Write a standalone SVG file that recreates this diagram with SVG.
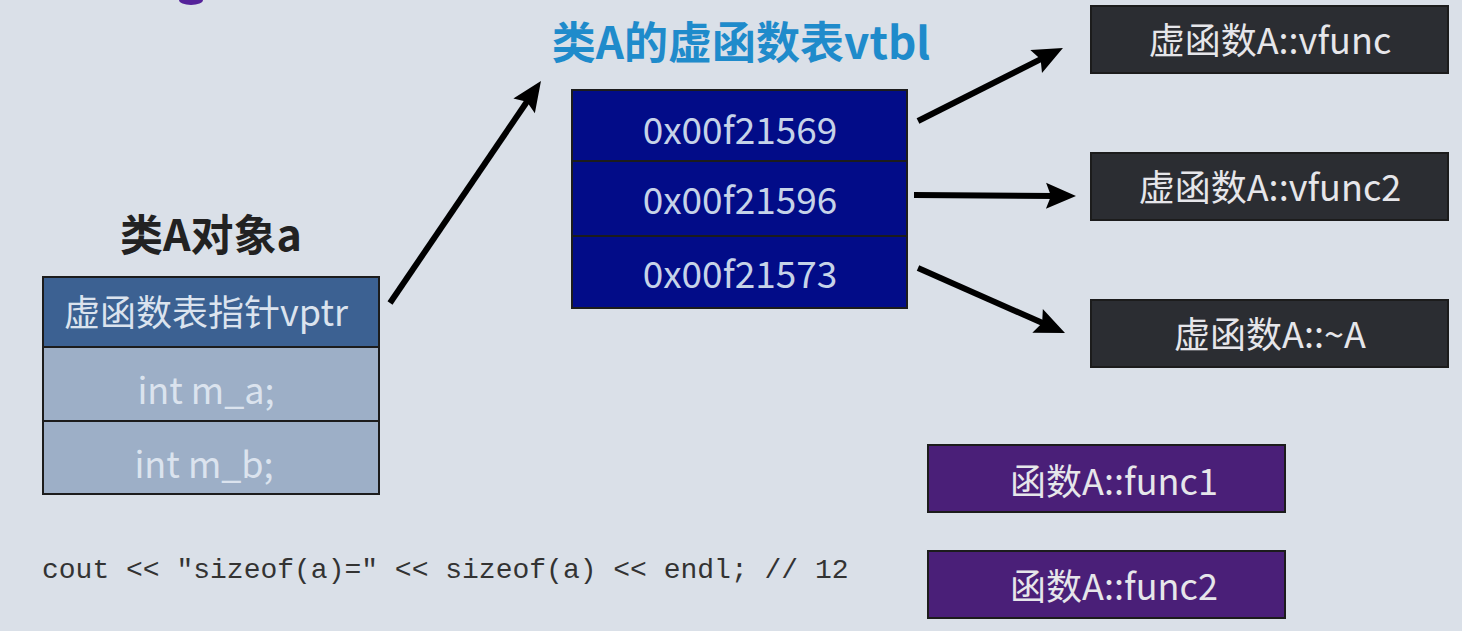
<svg xmlns="http://www.w3.org/2000/svg" width="1462" height="631" viewBox="0 0 1462 631">
<style>
.cell{stroke:#1c1c1c;stroke-width:2}
.t{font-family:"Noto Sans CJK SC","Noto Sans",sans-serif;text-anchor:middle;dominant-baseline:central}
.lt{fill:#dbe3ee;font-size:36px}
.hx{fill:#c6d3e8;font-size:37px}
.fn{fill:#e6e6ea;font-size:36px}
.title{font-weight:bold;font-size:43px}
.arr{stroke:#000;stroke-width:6;fill:none;marker-end:url(#ah)}
</style>
<defs>
<marker id="ah" markerUnits="userSpaceOnUse" refX="0" refY="0" markerWidth="40" markerHeight="40" orient="auto" overflow="visible">
<path d="M22,0 L-8,-13 L-3,0 L-8,13 Z" fill="#000"/>
</marker>
</defs>
<rect width="1462" height="631" fill="#dae0e8"/>
<ellipse cx="191" cy="0" rx="12" ry="5" fill="#55229a"/>

<g id="objA">
<text class="t title" x="211" y="232" fill="#222">类A对象a</text>
<rect class="cell" x="43" y="277" width="336" height="70" fill="#3c6192"/>
<rect class="cell" x="43" y="347" width="336" height="74" fill="#9dafc7"/>
<rect class="cell" x="43" y="421" width="336" height="73" fill="#9dafc7"/>
<text class="t lt" x="206" y="310">虚函数表指针vptr</text>
<text class="t lt" x="206" y="388">int m_a;</text>
<text class="t lt" x="204" y="462">int m_b;</text>
</g>

<g id="vtbl">
<text class="t title" x="741" y="40" fill="#1f8bcb" style="font-size:44px">类A的虚函数表vtbl</text>
<rect class="cell" x="572" y="90" width="335" height="71" fill="#020c88"/>
<rect class="cell" x="572" y="161" width="335" height="75" fill="#020c88"/>
<rect class="cell" x="572" y="236" width="335" height="72" fill="#020c88"/>
<text class="t hx" x="740" y="128">0x00f21569</text>
<text class="t hx" x="740" y="198">0x00f21596</text>
<text class="t hx" x="740" y="272">0x00f21573</text>
</g>

<g id="vfunc">
<rect class="cell" x="1091" y="6" width="357" height="67" fill="#2b2d32"/>
<text class="t fn" x="1270" y="38">虚函数A::vfunc</text>
</g>
<g id="vfunc2">
<rect class="cell" x="1091" y="153" width="357" height="67" fill="#2b2d32"/>
<text class="t fn" x="1270" y="185">虚函数A::vfunc2</text>
</g>
<g id="dtor">
<rect class="cell" x="1091" y="300" width="357" height="67" fill="#2b2d32"/>
<text class="t fn" x="1270" y="332">虚函数A::~A</text>
</g>
<g id="func1">
<rect class="cell" x="928" y="445" width="357" height="67" fill="#4a1f78"/>
<text class="t fn" x="1114" y="479">函数A::func1</text>
</g>
<g id="func2">
<rect class="cell" x="928" y="551" width="357" height="67" fill="#4a1f78"/>
<text class="t fn" x="1114" y="584">函数A::func2</text>
</g>

<g id="code">
<text x="42" y="578" font-family="'Liberation Mono','DejaVu Sans Mono',monospace" font-size="28" fill="#333">cout &lt;&lt; "sizeof(a)=" &lt;&lt; sizeof(a) &lt;&lt; endl; // 12</text>
</g>

<g id="connectors">
<line class="arr" x1="390" y1="303" x2="528.6" y2="99.2"/>
<line class="arr" x1="918" y1="121" x2="1043.3" y2="57.9"/>
<line class="arr" x1="914" y1="195" x2="1054" y2="195.9"/>
<line class="arr" x1="918" y1="268" x2="1044.9" y2="324.1"/>
</g>
</svg>
